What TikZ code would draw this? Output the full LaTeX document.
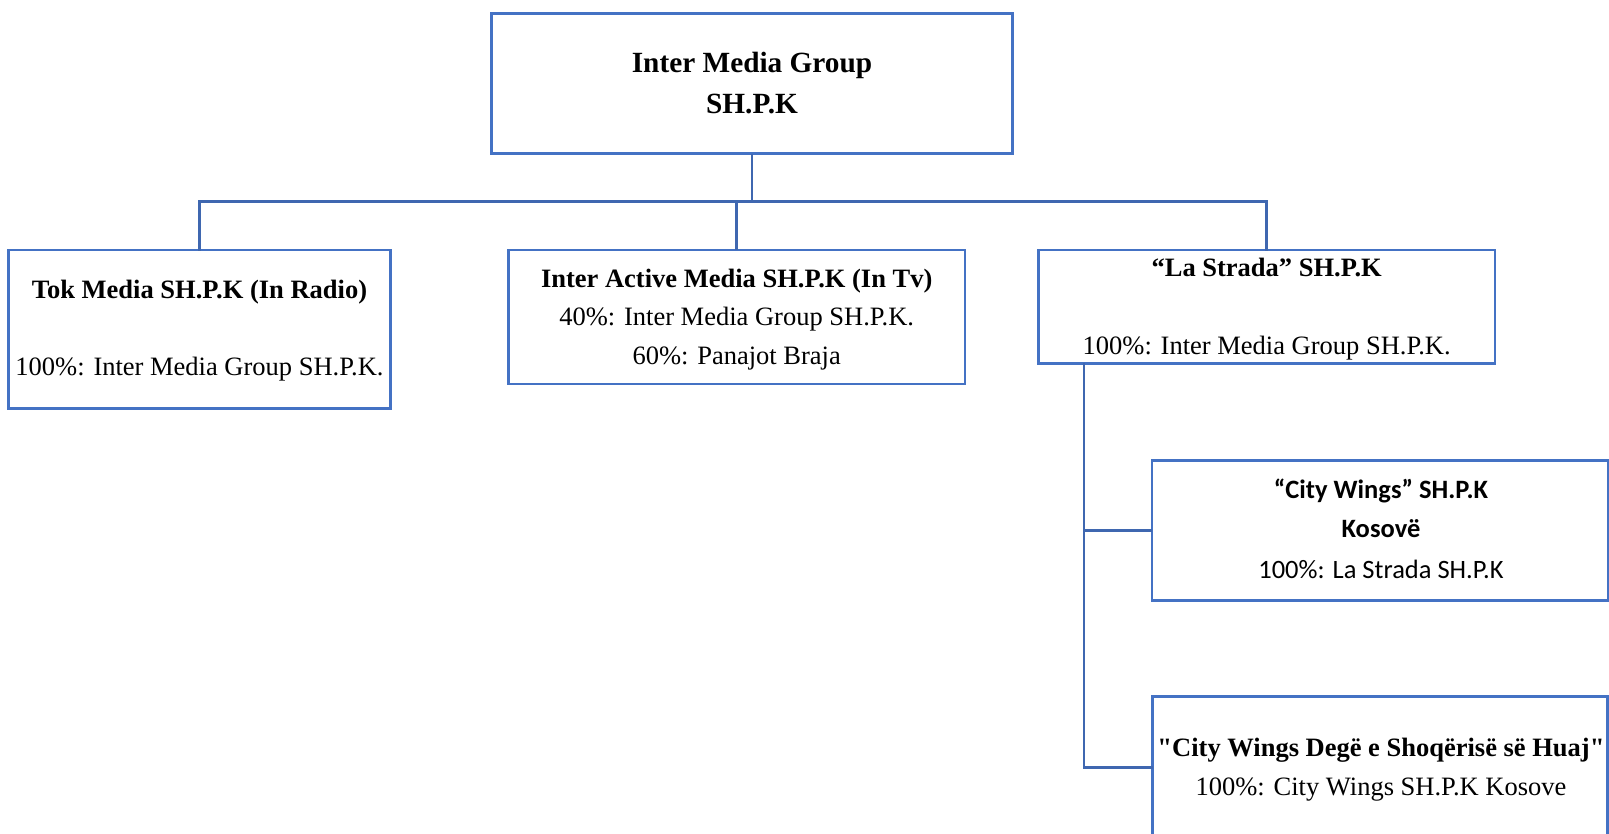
\documentclass[tikz,border=0pt]{standalone}
\usepackage{fontspec}
\setmainfont{Liberation Serif}
\newfontfamily\rawserif{Liberation Serif}
\newfontfamily\calib{Carlito}
\definecolor{boxblue}{HTML}{4472C4}
\definecolor{lineblue}{HTML}{3F67B0}
\begin{document}
\begin{tikzpicture}[x=1pt,y=-1pt,
  orgbox/.style={draw=boxblue,line width=2.8pt,rectangle,inner sep=0pt,outer sep=0pt},
  conn/.style={draw=lineblue,line width=2.8pt},
  txt/.style={anchor=base,inner sep=0pt,font=\fontsize{26.5}{30}\selectfont},
  btxt/.style={txt,font=\fontsize{26.5}{30}\selectfont\bfseries},
  rbtxt/.style={txt,font=\fontsize{26.5}{30}\selectfont\rawserif\bfseries},
  ctxt/.style={txt,font=\fontsize{26.5}{30}\selectfont\calib},
  cbtxt/.style={txt,font=\fontsize{26.5}{30}\selectfont\calib\bfseries},
  ttxt/.style={txt,font=\fontsize{29.3}{33}\selectfont\bfseries}]
\clip (0,0) rectangle (1609,834);
\fill[white] (0,0) rectangle (1609,834);

% boxes
\node[orgbox,minimum width=521.5pt,minimum height=140.5pt] (top) at (752,83.6) {};
\node[orgbox,minimum width=382.4pt,minimum height=158.7pt] (tok) at (199.5,329.4) {};
\node[orgbox,minimum width=456.7pt,minimum height=134pt] (inter) at (736.7,317) {};
\node[orgbox,minimum width=456.7pt,minimum height=113.3pt] (strada) at (1266.7,306.7) {};
\node[orgbox,minimum width=456pt,minimum height=140pt] (cw) at (1380,530.7) {};
\node[orgbox,minimum width=455pt,minimum height=142pt] (cwd) at (1380,767.7) {};

% texts
\node[ttxt] (t1) at (752,72.3) {Inter Media Group};
\node[ttxt] (t2) at (752,113.3) {SH.P.K};

\node[btxt] (k1) at (199.5,298.3) {Tok Media SH.P.K (In Radio)};
\node[txt] (k2) at (199.5,375) {100\%: Inter Media Group SH.P.K.};

\node[btxt] (i1) at (736.7,287.7) {Inter Active Media SH.P.K (In Tv)};
\node[txt] (i2) at (736.7,326) {40\%: Inter Media Group SH.P.K.};
\node[txt] (i3) at (736.7,364) {60\%: Panajot Braja};

\node[btxt] (s1) at (1266.7,276.7) {“La Strada” SH.P.K};
\node[txt] (s2) at (1266.7,354) {100\%: Inter Media Group SH.P.K.};

\node[cbtxt] (c1) at (1381,498.3) {“City Wings” SH.P.K};
\node[cbtxt] (c2) at (1381,537.3) {Kosovë};
\node[ctxt] (c3) at (1381,578.3) {100\%: La Strada SH.P.K};

\node[rbtxt] (d1) at (1381,756.7) {"City Wings Degë e Shoqërisë së Huaj"};
\node[txt] (d2) at (1381,795) {100\%: City Wings SH.P.K Kosove};

% connectors
\coordinate (bus) at (0,201.7);
\coordinate (trunk) at (1084,0);
\draw[conn] (top.south) -- (top.south |- bus);
\draw[conn,line cap=rect] (tok.north) -- (tok.north |- bus) -- (strada.north |- bus) -- (strada.north);
\draw[conn] (inter.north) -- (inter.north |- bus);
\draw[conn] (strada.south -| trunk) |- (cw.west);
\draw[conn] (strada.south -| trunk) |- (cwd.west);
\end{tikzpicture}
\end{document}
